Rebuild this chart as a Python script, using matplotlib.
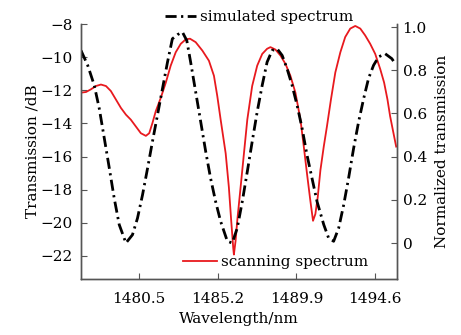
import matplotlib
matplotlib.use('Agg')
import matplotlib.pyplot as plt

plt.rcParams['font.family'] = 'DejaVu Serif'
plt.rcParams['font.size'] = 11

# simulated spectrum (normalized, right axis)
sim_wl = [1477.05, 1477.45, 1477.84, 1478.14, 1478.44, 1478.74, 1479.03, 1479.33,
          1479.73, 1480.12, 1480.42, 1480.72, 1481.02, 1481.31, 1481.61, 1481.91,
          1482.21, 1482.50, 1482.80, 1483.10, 1483.36, 1483.59, 1483.89, 1484.19,
          1484.49, 1484.78, 1485.08, 1485.38, 1485.78, 1486.07, 1486.37, 1486.67,
          1486.97, 1487.26, 1487.56, 1487.86, 1488.15, 1488.45, 1488.75, 1489.05,
          1489.34, 1489.64, 1489.94, 1490.24, 1490.53, 1490.83, 1491.13, 1491.53,
          1491.82, 1492.12, 1492.42, 1492.72, 1493.01, 1493.31, 1493.61, 1493.91,
          1494.20, 1494.50, 1494.80, 1495.19, 1495.59, 1495.79]
sim_norm = [0.892, 0.823, 0.731, 0.623, 0.485, 0.346, 0.208, 0.085,
            0.000, 0.038, 0.115, 0.223, 0.346, 0.469, 0.592, 0.715,
            0.838, 0.946, 0.965, 0.977, 0.938, 0.838, 0.700, 0.562,
            0.423, 0.300, 0.192, 0.100, 0.008, 0.000, 0.069, 0.192,
            0.331, 0.469, 0.608, 0.731, 0.838, 0.892, 0.900, 0.869,
            0.808, 0.731, 0.638, 0.531, 0.408, 0.300, 0.192, 0.085,
            0.023, 0.008, 0.069, 0.177, 0.300, 0.438, 0.562, 0.669,
            0.762, 0.823, 0.862, 0.877, 0.854, 0.831]

# scanning spectrum (dB, left axis)
scan_wl = [1477.05, 1477.35, 1477.64, 1477.94, 1478.24, 1478.54, 1478.83, 1479.13,
           1479.43, 1479.73, 1480.02, 1480.32, 1480.62, 1480.92, 1481.12, 1481.31,
           1481.51, 1481.81, 1482.11, 1482.40, 1482.70, 1483.00, 1483.30, 1483.55,
           1483.89, 1484.29, 1484.68, 1484.98, 1485.18, 1485.38, 1485.68, 1485.87,
           1486.01, 1486.13, 1486.17, 1486.27, 1486.37, 1486.57, 1486.77, 1486.97,
           1487.26, 1487.56, 1487.86, 1488.15, 1488.35, 1488.65, 1488.95, 1489.25,
           1489.54, 1489.84, 1490.14, 1490.34, 1490.53, 1490.73, 1490.89, 1491.03,
           1491.17, 1491.33, 1491.53, 1491.72, 1491.96, 1492.22, 1492.52, 1492.81,
           1493.11, 1493.41, 1493.71, 1494.00, 1494.30, 1494.60, 1494.90, 1495.13,
           1495.33, 1495.49, 1495.69, 1495.85]
scan_db = [-12.14, -12.10, -11.94, -11.74, -11.65, -11.74, -12.04, -12.55,
           -13.06, -13.47, -13.77, -14.18, -14.59, -14.75, -14.59, -13.98,
           -13.26, -12.45, -11.53, -10.51, -9.70, -9.19, -8.92, -8.88,
           -9.09, -9.60, -10.21, -11.12, -12.35, -13.77, -15.81, -17.85,
           -19.88, -21.51, -21.92, -21.10, -19.88, -17.85, -15.81, -13.77,
           -11.74, -10.51, -9.80, -9.49, -9.39, -9.54, -9.90, -10.41,
           -11.12, -12.14, -13.77, -15.40, -17.03, -18.66, -19.88, -19.47,
           -18.46, -16.83, -15.40, -14.18, -12.55, -10.92, -9.70, -8.78,
           -8.27, -8.11, -8.27, -8.68, -9.19, -9.80, -10.72, -11.53,
           -12.55, -13.57, -14.59, -15.40]

xticks = [1480.5, 1485.2, 1489.9, 1494.6]
db_ticks = [-22, -20, -18, -16, -14, -12, -10, -8]
norm_ticks = [0, 0.2, 0.4, 0.6, 0.8, 1.0]
norm_labels = ['0', '0.2', '0.4', '0.6', '0.8', '1.0']

fig = plt.figure(figsize=(4.61, 3.35), dpi=100)
ax = fig.add_axes([0.1757, 0.167, 0.6855, 0.761])
ax2 = ax.twinx()

l_scan, = ax.plot(scan_wl, scan_db, color='#e8191e', lw=1.3, label='scanning spectrum')
l_sim, = ax2.plot(sim_wl, sim_norm, color='black', lw=2.0,
                  linestyle=(0, (4, 1.6, 0.8, 1.6)), label='simulated spectrum')

ax.set_xlim(1477.05, 1495.9)
ax.set_ylim(-23.4, -8.0)
ax2.set_ylim(-0.167, 1.014)
ax.set_xticks(xticks)
ax.set_xticklabels([str(v) for v in xticks])
ax.set_yticks(db_ticks)
ax.set_yticklabels(['\u2212%d' % abs(v) for v in db_ticks])
ax2.set_yticks(norm_ticks)
ax2.set_yticklabels(norm_labels)

for a in (ax, ax2):
    a.tick_params(direction='in', length=4, width=0.8, color='#555555')
    for s in a.spines.values():
        s.set_color('#555555')
        s.set_linewidth(1.0)
ax.tick_params(axis='x', pad=9)
ax.tick_params(axis='y', pad=6)
ax2.tick_params(axis='y', pad=4)
ax.spines['top'].set_visible(False)
ax2.spines['top'].set_visible(False)

ax.set_xlabel('Wavelength/nm', labelpad=5)
ax.set_ylabel('Transmission /dB', labelpad=1)
ax2.set_ylabel('Normalized transmission', labelpad=6)

fig.legend(handles=[l_sim], loc='center left', bbox_to_anchor=(165 / 461, 1 - 17 / 335),
           frameon=False, borderpad=0, borderaxespad=0, handlelength=2.0, handletextpad=0.3)
fig.legend(handles=[l_scan], loc='center left', bbox_to_anchor=(183 / 461, 1 - 262 / 335),
           frameon=False, borderpad=0, borderaxespad=0, handlelength=2.2, handletextpad=0.3)

fig.savefig('out.png', dpi=100)
